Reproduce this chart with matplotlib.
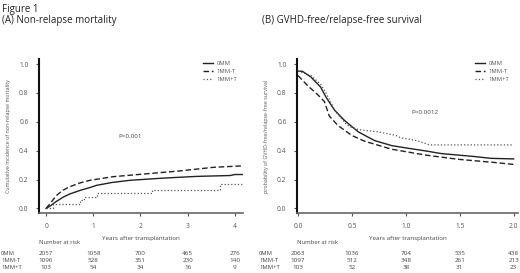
import matplotlib.pyplot as plt
from matplotlib.transforms import blended_transform_factory

plt.rcParams['font.family'] = ['Open Sans', 'DejaVu Sans']

groups = ['0MM', '1MM-T', '1MM+T']

# (A) non-relapse mortality, cumulative incidence
nrm_t_0mm = [0, 0.1, 0.2, 0.37, 0.5, 0.72, 0.93, 1.07, 1.4, 1.78, 2.48, 3.19, 3.9, 4.0, 4.17]
nrm_0mm = [0, 0.02, 0.045, 0.08, 0.1, 0.125, 0.145, 0.16, 0.18, 0.195, 0.21, 0.222, 0.228, 0.235, 0.235]
nrm_t_1mmt = [0, 0.1, 0.22, 0.35, 0.5, 0.7, 0.93, 1.42, 2.13, 2.84, 3.55, 4.17]
nrm_1mmt = [0, 0.04, 0.09, 0.125, 0.15, 0.175, 0.195, 0.22, 0.24, 0.26, 0.285, 0.295]
nrm_t_1mmpt = [0, 0.15, 0.72, 0.8, 1.07, 2.24, 3.68, 4.17]
nrm_1mmpt = [0, 0.03, 0.06, 0.08, 0.11, 0.125, 0.17, 0.17]
nrm_ticks = [0, 1, 2, 3, 4]
nrm_risk = [[2057, 1058, 700, 465, 276],
            [1096, 528, 351, 230, 140],
            [103, 54, 34, 16, 9]]

# (B) GVHD-free/relapse-free survival
grfs_t_0mm = [0, 0.04, 0.12, 0.21, 0.26, 0.34, 0.43, 0.56, 0.71, 0.87, 1.02, 1.17, 1.33, 1.48, 1.63, 1.79, 2.0]
grfs_0mm = [0.95, 0.95, 0.91, 0.84, 0.77, 0.68, 0.61, 0.53, 0.47, 0.435, 0.417, 0.40, 0.38, 0.37, 0.36, 0.347, 0.343]
grfs_t_1mmt = [0, 0.09, 0.18, 0.245, 0.29, 0.37, 0.5, 0.62, 0.87, 1.18, 1.49, 1.8, 2.0]
grfs_1mmt = [0.92, 0.85, 0.79, 0.74, 0.64, 0.575, 0.505, 0.465, 0.41, 0.37, 0.34, 0.32, 0.305]
grfs_t_1mmpt = [0, 0.04, 0.12, 0.21, 0.26, 0.34, 0.45, 0.5, 0.57, 0.75, 0.91, 0.95, 1.1, 1.22, 2.0]
grfs_1mmpt = [0.95, 0.94, 0.92, 0.86, 0.80, 0.68, 0.58, 0.56, 0.545, 0.53, 0.505, 0.49, 0.47, 0.44, 0.44]
grfs_ticks = [0, 0.5, 1.0, 1.5, 2.0]
grfs_risk = [[2063, 1036, 704, 535, 438],
             [1097, 512, 348, 261, 213],
             [103, 52, 38, 31, 23]]

yticks = [0, 0.2, 0.4, 0.6, 0.8, 1.0]

fig = plt.figure(figsize=(5.2, 2.73), dpi=100)
fig.text(0.004, 0.965, 'Figure 1', fontsize=7, color='#222', va='center')
fig.text(0.004, 0.925, '(A) Non-relapse mortality', fontsize=7, color='#222', va='center')
fig.text(0.504, 0.925, '(B) GVHD-free/relapse-free survival', fontsize=7, color='#222', va='center')

axA = fig.add_axes([0.075, 0.22, 0.392, 0.564])
axB = fig.add_axes([0.571, 0.22, 0.425, 0.564])

dash = (0, (4, 2))
axA.plot(nrm_t_0mm, nrm_0mm, color='#222', lw=1.0, label=groups[0])
axA.plot(nrm_t_1mmt, nrm_1mmt, color='#222', lw=1.0, ls=dash, label=groups[1])
axA.step(nrm_t_1mmpt, nrm_1mmpt, where='post', color='#555', lw=0.9, ls=':', label=groups[2])
axA.set_xlim(-0.15, 4.17)
axA.set_ylim(-0.031, 1.035)
axA.set_xticks(nrm_ticks)
axA.set_ylabel('Cumulative incidence of non-relapse mortality', fontsize=3.8, color='#555', labelpad=6)
axA.text(1.78, 0.50, 'P<0.001', fontsize=4.5, color='#444', ha='center', va='center')

axB.plot(grfs_t_0mm, grfs_0mm, color='#222', lw=1.0, label=groups[0])
axB.plot(grfs_t_1mmt, grfs_1mmt, color='#222', lw=1.0, ls=dash, label=groups[1])
axB.plot(grfs_t_1mmpt, grfs_1mmpt, color='#555', lw=0.9, ls=':', label=groups[2])
axB.set_xlim(-0.01, 2.04)
axB.set_ylim(-0.031, 1.035)
axB.set_xticks(grfs_ticks)
axB.set_xticklabels([f'{t:.1f}' for t in grfs_ticks])
axB.set_ylabel('probability of GVHD-free/relapse-free survival', fontsize=3.8, color='#555', labelpad=6)
axB.text(1.18, 0.667, 'P=0.0012', fontsize=4.5, color='#444', ha='center', va='center')

for ax, ticks, risk, anchor in [(axA, nrm_ticks, nrm_risk, 1.0), (axB, grfs_ticks, grfs_risk, 0.985)]:
    ax.set_yticks(yticks)
    ax.set_yticklabels([f'{v:.1f}' for v in yticks])
    for s in ['top', 'right']:
        ax.spines[s].set_visible(False)
    ax.spines['left'].set_linewidth(1.5)
    ax.spines['left'].set_color('#111')
    ax.spines['bottom'].set_linewidth(1.2)
    ax.spines['bottom'].set_color('#666')
    ax.tick_params(labelsize=4.8, colors='#555', length=2.5, width=0.8, pad=5)
    ax.set_xlabel('Years after transplantation', fontsize=4.5, color='#444', labelpad=4)
    ax.legend(loc='upper right', bbox_to_anchor=(anchor, 1.02), frameon=False, fontsize=4.2,
              handlelength=1.7, handletextpad=0.6, labelspacing=0.45, labelcolor='#555')
    # number at risk table below the axes
    tr = blended_transform_factory(ax.transData, fig.transFigure)
    ax.text(0.0, 0.11, 'Number at risk', transform=blended_transform_factory(ax.transAxes, fig.transFigure),
            fontsize=4.2, color='#444', va='center')
    for i, row in enumerate(risk):
        yy = 0.073 - i * 0.026
        for t, n in zip(ticks, row):
            ax.text(t, yy, str(n), transform=tr, fontsize=4.5, color='#444', ha='center', va='center')

for i, g in enumerate(groups):
    yy = 0.073 - i * 0.026
    fig.text(0.002, yy, g, fontsize=4.2, color='#444', ha='left', va='center')
    fig.text(0.498, yy, g, fontsize=4.2, color='#444', ha='left', va='center')

fig.savefig('out.png', dpi=100, facecolor='white')
